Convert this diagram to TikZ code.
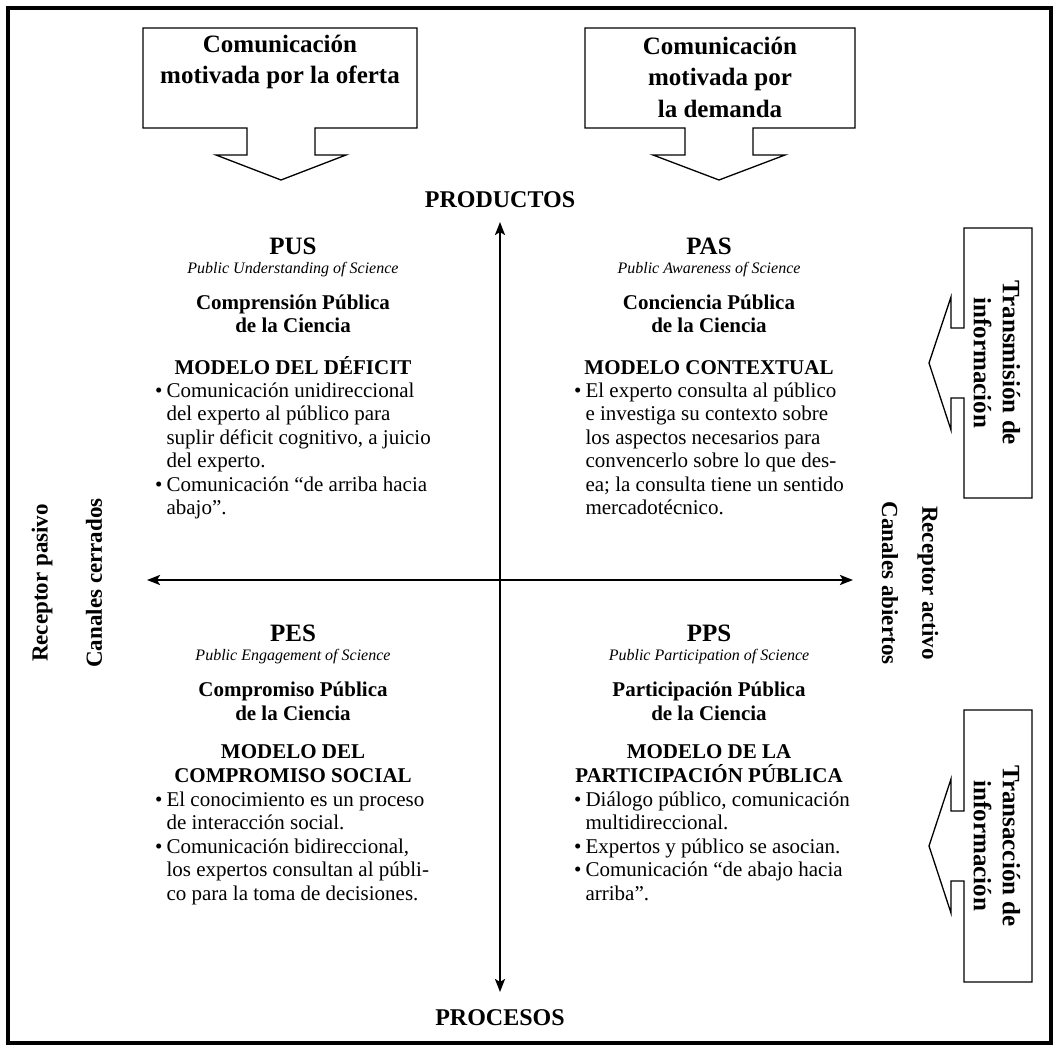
\documentclass[tikz,border=0pt]{standalone}
\usepackage{fontspec}
\setmainfont{Liberation Serif}
\usetikzlibrary{arrows.meta}

\tikzset{
	frame line/.style = {line width = 3.5pt},
	block arrow/.style = {draw, line width = 1.3pt, line join = miter},
	axis arrow/.style = {line width = 2.4pt, {Stealth[length = 13pt, width = 10pt, inset = 3pt]}-{Stealth[length = 13pt, width = 10pt, inset = 3pt]}},
	arrow text/.style = {font = \fontsize{25}{31.5}\selectfont\bfseries, align = center, inner sep = 0pt},
	side text/.style = {font = \fontsize{25}{29}\selectfont\bfseries, align = center, inner sep = 0pt, rotate = -90},
	axis label/.style = {font = \fontsize{24}{28}\selectfont\bfseries, inner sep = 0pt},
	side label/.style = {font = \fontsize{23}{27}\selectfont\bfseries, inner sep = 0pt},
	model name/.style = {font = \fontsize{25}{28}\selectfont\bfseries, anchor = base, inner sep = 0pt},
	model english/.style = {font = \fontsize{16}{18}\selectfont\itshape, anchor = base, inner sep = 0pt},
	model title/.style = {font = \fontsize{21}{23.5}\selectfont\bfseries, align = center, inner sep = 0pt},
	model points/.style = {font = \fontsize{21}{23.5}\selectfont, anchor = north west, inner sep = 0pt}
}

\begin{document}
\begin{tikzpicture}[x = 1pt, y = -1pt]
		\def\cx{500};
		\def\cy{580};
		\def\leftcol{293};
		\def\rightcol{709};
		
		\useasboundingbox (0,0) rectangle (1057,1051);
		\draw [frame line] (8,8) rectangle (1051,1043);
		
		\draw [block arrow] (143,28) -- (417,28) -- (417,128) -- (315,128) -- (315,155) -- (346,155) -- (281,180) -- (216,155) -- (247,155) -- (247,128) -- (143,128) -- cycle;
		\draw [block arrow] (585,28) -- (855,28) -- (855,128) -- (753,128) -- (753,155) -- (785,155) -- (719,180) -- (653,155) -- (685,155) -- (685,128) -- (585,128) -- cycle;
		\draw [block arrow] (1032,228) -- (1032,498) -- (964,498) -- (964,398) -- (951,398) -- (951,430) -- (929,363) -- (951,297) -- (951,328) -- (964,328) -- (964,228) -- cycle;
		\draw [block arrow] (1032,710) -- (1032,982) -- (964,982) -- (964,881) -- (951,881) -- (951,913) -- (929,846) -- (951,779) -- (951,811) -- (964,811) -- (964,710) -- cycle;
		
		\node [arrow text] (supply) at (280,62) {Comunicación\\motivada por la oferta};
		\node [arrow text] (demand) at (720,77) {Comunicación\\motivada por\\la demanda};
		\node [side text] (transmission) at (997,363) {Transmisión de\\información};
		\node [side text] (transaction) at (997,846) {Transacción de\\información};
		
		\coordinate (axis top) at (\cx,222);
		\coordinate (axis bottom) at (\cx,992);
		\coordinate (axis left) at (147,\cy);
		\coordinate (axis right) at (853,\cy);
		\draw [axis arrow] (axis bottom) -- (axis top);
		\draw [axis arrow] (axis left) -- (axis right);
		
		\node [axis label] (products) at (\cx,200) {PRODUCTOS};
		\node [axis label] (processes) at (\cx,1018) {PROCESOS};
		\node [side label, rotate = 90] (passive) at (42,583) {Receptor pasivo};
		\node [side label, rotate = 90] (closed) at (94,583) {Canales cerrados};
		\node [side label, rotate = -90] (active) at (928,583) {Receptor activo};
		\node [side label, rotate = -90] (open) at (890,583) {Canales abiertos};
		
		\node [model name] (pus) at (\leftcol,254) {PUS};
		\node [model english] (pus en) at (\leftcol,273) {Public Understanding of Science};
		\node [model title] (pus es) at (\leftcol,314) {Comprensión Pública\\de la Ciencia};
		\node [model title, anchor = base] (deficit) at (\leftcol,374) {MODELO DEL DÉFICIT};
		\node [model points] (deficit points) at (155,380.5) {\begin{tabular}{@{}l@{\hspace{4pt}}l@{}}
			\textbullet & Comunicación unidireccional\\
			& del experto al público para\\
			& suplir déficit cognitivo, a juicio\\
			& del experto.\\
			\textbullet & Comunicación “de arriba hacia\\
			& abajo”.
		\end{tabular}};
		
		\node [model name] (pas) at (\rightcol,254) {PAS};
		\node [model english] (pas en) at (\rightcol,273) {Public Awareness of Science};
		\node [model title] (pas es) at (\rightcol,314) {Conciencia Pública\\de la Ciencia};
		\node [model title, anchor = base] (context) at (\rightcol,374) {MODELO CONTEXTUAL};
		\node [model points] (context points) at (574,380.5) {\begin{tabular}{@{}l@{\hspace{4pt}}l@{}}
			\textbullet & El experto consulta al público\\
			& e investiga su contexto sobre\\
			& los aspectos necesarios para\\
			& convencerlo sobre lo que des-\\
			& ea; la consulta tiene un sentido\\
			& mercadotécnico.
		\end{tabular}};
		
		\node [model name] (pes) at (\leftcol,641) {PES};
		\node [model english] (pes en) at (\leftcol,660) {Public Engagement of Science};
		\node [model title] (pes es) at (\leftcol,701.5) {Compromiso Pública\\de la Ciencia};
		\node [model title] (engagement) at (\leftcol,763.5) {MODELO DEL\\COMPROMISO SOCIAL};
		\node [model points] (engagement points) at (155,789.5) {\begin{tabular}{@{}l@{\hspace{4pt}}l@{}}
			\textbullet & El conocimiento es un proceso\\
			& de interacción social.\\
			\textbullet & Comunicación bidireccional,\\
			& los expertos consultan al públi-\\
			& co para la toma de decisiones.
		\end{tabular}};
		
		\node [model name] (pps) at (\rightcol,641) {PPS};
		\node [model english] (pps en) at (\rightcol,660) {Public Participation of Science};
		\node [model title] (pps es) at (\rightcol,701.5) {Participación Pública\\de la Ciencia};
		\node [model title] (participation) at (\rightcol,763.5) {MODELO DE LA\\PARTICIPACIÓN PÚBLICA};
		\node [model points] (participation points) at (574,789.5) {\begin{tabular}{@{}l@{\hspace{4pt}}l@{}}
			\textbullet & Diálogo público, comunicación\\
			& multidireccional.\\
			\textbullet & Expertos y público se asocian.\\
			\textbullet & Comunicación “de abajo hacia\\
			& arriba”.
		\end{tabular}};
	\end{tikzpicture}
\end{document}
